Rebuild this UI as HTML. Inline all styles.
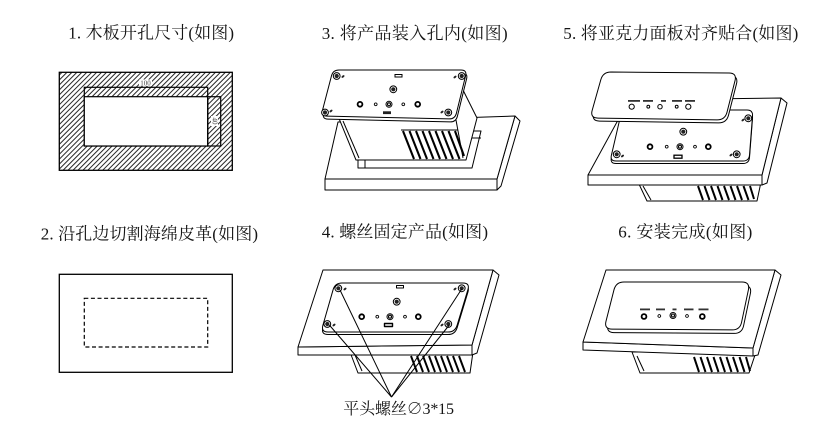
<!DOCTYPE html>
<html><head><meta charset="utf-8"><style>
html,body{margin:0;padding:0;background:#fff;width:822px;height:426px;overflow:hidden}
svg{display:block}
text{font-family:"Liberation Serif","Noto Serif CJK SC",serif;fill:#151515}
</style></head><body>
<svg width="822" height="426" viewBox="0 0 822 426" xmlns="http://www.w3.org/2000/svg">
<defs>
<pattern id="h" width="3.5" height="3.5" patternUnits="userSpaceOnUse" patternTransform="rotate(45)">
<line x1="0.5" y1="0" x2="0.5" y2="3.5" stroke="#000" stroke-width="0.85"/></pattern>
<g id="s"><circle r="3.4" fill="#fff" stroke="#000" stroke-width="1"/><circle r="2.1" fill="#222"/></g>
<g id="hb"><circle r="2.4" fill="#fff" stroke="#000" stroke-width="1.8"/></g>
<g id="hs"><circle r="1.4" fill="#fff" stroke="#000" stroke-width="0.9"/></g>
<g id="hn"><circle r="3" fill="#fff" stroke="#000" stroke-width="1"/><circle r="1.5" fill="#fff" stroke="#000" stroke-width="1.1"/></g>
<g id="m"><ellipse rx="1.7" ry="1" fill="#222" transform="rotate(-40)"/></g>
</defs>

<!-- Titles -->
<text x="68.3" y="38.5" font-size="17" textLength="165.7" lengthAdjust="spacing">1. 木板开孔尺寸(如图)</text>
<text x="321.7" y="38.8" font-size="17" textLength="186" lengthAdjust="spacing">3. 将产品装入孔内(如图)</text>
<text x="563.3" y="38.8" font-size="17" textLength="235" lengthAdjust="spacing">5. 将亚克力面板对齐贴合(如图)</text>
<text x="40.7" y="239.5" font-size="17" textLength="217.3" lengthAdjust="spacing">2. 沿孔边切割海绵皮革(如图)</text>
<text x="321.7" y="237.5" font-size="17" textLength="166.3" lengthAdjust="spacing">4. 螺丝固定产品(如图)</text>
<text x="618.3" y="237.5" font-size="17" textLength="134" lengthAdjust="spacing">6. 安装完成(如图)</text>
<text x="343.3" y="413.8" font-size="16" textLength="110.7" lengthAdjust="spacing">平头螺丝∅3*15</text>

<!-- Panel 1 -->
<rect x="59.3" y="72.3" width="173" height="98" fill="url(#h)" stroke="#000" stroke-width="1.3"/>
<rect x="84.3" y="87.3" width="123.4" height="58.7" fill="none" stroke="#000" stroke-width="1.2"/>
<rect x="84.3" y="96.7" width="123.4" height="49.3" fill="#fff" stroke="#000" stroke-width="1.2"/>
<rect x="207.7" y="96.7" width="13" height="49.3" fill="none" stroke="#000" stroke-width="1.2"/>
<rect x="139" y="79.5" width="13" height="6.5" fill="#fff"/>
<text x="145.5" y="85.3" font-size="7" text-anchor="middle" style="fill:#444">100</text>
<rect x="211" y="116" width="7" height="10" fill="#fff"/>
<text x="0" y="0" font-size="7" text-anchor="middle" style="fill:#444" transform="translate(212.3,121) rotate(90)">40</text>

<!-- Panel 2 -->
<rect x="59.3" y="274.3" width="173" height="98" fill="none" stroke="#000" stroke-width="1.3"/>
<rect x="84.3" y="298.3" width="123.4" height="48.7" fill="none" stroke="#000" stroke-width="1.2" stroke-dasharray="4 2.6"/>

<g stroke="#000" stroke-width="1" fill="#fff" stroke-linejoin="round">
<!-- Panel 3 board -->
<polygon points="325,179 497,179 497,190 325,190"/>
<polygon points="515,116 520,121 501,186 497,190 497,179"/>
<polygon points="338,122 515,116 497,179 325,179"/>
<polyline fill="none" points="358,160 358,168 472,168 481,131 472,131 472,138 481,138"/>
<line x1="365" y1="160" x2="365" y2="168"/>
<!-- Panel 3 box -->
<path d="M338,116 L356,160 L466,160 L477,118 L463,90 Z"/>
<line x1="343" y1="121" x2="359" y2="158"/>
<line x1="456" y1="120" x2="463" y2="158"/>
<line x1="401" y1="130" x2="458" y2="130"/>
</g>
<g stroke="#000" stroke-width="2.1">
<line x1="403" y1="131" x2="414" y2="159"/><line x1="409.5" y1="131" x2="420.5" y2="159"/>
<line x1="416" y1="131" x2="427" y2="159"/><line x1="422.5" y1="131" x2="433.5" y2="159"/>
<line x1="429" y1="131" x2="440" y2="159"/><line x1="435.5" y1="131" x2="446.5" y2="159"/>
<line x1="442" y1="131" x2="453" y2="159"/><line x1="448.5" y1="131" x2="459.5" y2="159"/>
<line x1="455" y1="131" x2="464" y2="156"/>
</g>
<g stroke="#000" stroke-width="1" fill="#fff">
<path transform="translate(1,3)" d="M339,70 L461,70 Q467,70 465.6,75.8 L456.4,113.2 Q455,119 449,118.9 L327,116.1 Q321,116 322.5,110.2 L331.5,75.8 Q333,70 339,70 Z"/>
<path d="M339,70 L461,70 Q467,70 465.6,75.8 L456.4,113.2 Q455,119 449,118.9 L327,116.1 Q321,116 322.5,110.2 L331.5,75.8 Q333,70 339,70 Z"/>
<rect x="395" y="74.5" width="7" height="2.5"/>
</g>
<use href="#s" x="336.7" y="76"/><use href="#s" x="461.7" y="76"/>
<use href="#s" x="325" y="112.5"/><use href="#s" x="448.3" y="112.5"/>
<use href="#m" x="343" y="76.5"/><use href="#m" x="455" y="77"/>
<use href="#m" x="331" y="111"/><use href="#m" x="442" y="112"/>
<use href="#s" x="393.3" y="89.3"/>
<use href="#hb" x="360" y="104.3"/><use href="#hs" x="375.7" y="104.3"/>
<use href="#hn" x="389" y="104.3"/><use href="#hs" x="403.3" y="104.3"/>
<use href="#hb" x="417.7" y="104.3"/>
<rect x="383" y="111.3" width="8" height="2.8" fill="#222"/>

<!-- Panel 4 -->
<g stroke="#000" stroke-width="1" fill="#fff" stroke-linejoin="round">
<polygon points="350,352 358,373 470,373 473,352"/>
<line x1="355" y1="355" x2="362" y2="371"/>
<polygon points="298,347 472,345 472,355 298,355"/>
<polygon points="493,270 499,275 477,353 472,355 472,345"/>
<polygon points="323,270 493,270 472,345 298,347"/>
<path transform="translate(0,2.5)" d="M342,283 L463,283 Q470,283 467.9,289.7 L457.1,325.3 Q455,332 448,332 L328,332 Q321,332 322.9,325.3 L333.1,289.7 Q335,283 342,283 Z"/>
<path d="M342,283 L463,283 Q470,283 467.9,289.7 L457.1,325.3 Q455,332 448,332 L328,332 Q321,332 322.9,325.3 L333.1,289.7 Q335,283 342,283 Z"/>
<rect x="396.5" y="285.5" width="7" height="2.5"/>
<rect x="384.5" y="323.5" width="8" height="3" stroke-width="1.4"/>
</g>
<g stroke="#000" stroke-width="2">
<line x1="411" y1="356" x2="417" y2="372"/><line x1="417" y1="356" x2="423" y2="372"/>
<line x1="423" y1="356" x2="429" y2="372"/><line x1="429" y1="356" x2="435" y2="372"/>
<line x1="435" y1="356" x2="441" y2="372"/><line x1="441" y1="356" x2="447" y2="372"/>
<line x1="447" y1="356" x2="453" y2="372"/><line x1="453" y1="356" x2="459" y2="372"/>
<line x1="459" y1="356" x2="465" y2="372"/>
</g>
<use href="#s" x="338.3" y="288.3"/><use href="#s" x="461.7" y="288.3"/>
<use href="#s" x="327.3" y="324"/><use href="#s" x="448.3" y="324"/>
<use href="#m" x="345" y="289"/><use href="#m" x="455" y="289"/>
<use href="#m" x="334" y="325"/><use href="#m" x="442" y="325"/>
<use href="#s" x="396.7" y="301.7"/>
<use href="#hb" x="361.7" y="316.7"/><use href="#hs" x="377.3" y="316.7"/>
<use href="#hn" x="390" y="316.7"/><use href="#hs" x="405" y="316.7"/>
<use href="#hb" x="418.3" y="316.7"/>
<g stroke="#000" stroke-width="1">
<line x1="340" y1="290" x2="391.5" y2="397"/>
<line x1="329.3" y1="325" x2="391.5" y2="397"/>
<line x1="461.7" y1="289" x2="391.5" y2="397"/>
<line x1="449.3" y1="325" x2="391.5" y2="397"/>
</g>

<!-- Panel 5 -->
<g stroke="#000" stroke-width="1" fill="#fff" stroke-linejoin="round">
<polygon points="638,182 647,201 757,201 761,182"/>
<line x1="643" y1="186" x2="651" y2="200"/>
<polygon points="588,175 762,175 762,185 588,185"/>
<polygon points="781,98 787,103 767,183 762,185 762,175"/>
<polygon points="629,100 781,98 762,175 588,175"/>
<path transform="translate(0,2.5)" d="M628,110 L747,110 Q753,110 752.5,116 L749.5,155 Q749,161 743,161 L616,161 Q610,161 611.4,155.2 L620.6,115.8 Q622,110 628,110 Z"/>
<path d="M628,110 L747,110 Q753,110 752.5,116 L749.5,155 Q749,161 743,161 L616,161 Q610,161 611.4,155.2 L620.6,115.8 Q622,110 628,110 Z"/>
</g>
<g stroke="#000" stroke-width="2">
<line x1="698" y1="186" x2="703" y2="200"/><line x1="704.5" y1="186" x2="709.5" y2="200"/>
<line x1="711" y1="186" x2="716" y2="200"/><line x1="717.5" y1="186" x2="722.5" y2="200"/>
<line x1="724" y1="186" x2="729" y2="200"/><line x1="730.5" y1="186" x2="735.5" y2="200"/>
<line x1="737" y1="186" x2="742" y2="200"/><line x1="743.5" y1="186" x2="748.5" y2="200"/>
<line x1="750" y1="186" x2="754" y2="199"/>
</g>
<use href="#s" x="748.3" y="118.3"/><use href="#s" x="736.7" y="154.3"/><use href="#s" x="616.7" y="154.3"/>
<use href="#m" x="743" y="120"/><use href="#m" x="731" y="155"/><use href="#m" x="622.5" y="156"/>
<use href="#s" x="683.3" y="131.7"/>
<use href="#hb" x="650" y="146.7"/><use href="#hs" x="666.7" y="146.7"/>
<use href="#hn" x="680" y="146.7"/><use href="#hs" x="695" y="146.7"/>
<use href="#hb" x="708.3" y="146.7"/>
<rect x="674" y="155.2" width="8" height="3" fill="#fff" stroke="#000" stroke-width="1.3"/>
<g stroke="#000" stroke-width="1" fill="#fff">
<path transform="translate(1.5,3)" d="M611,72 L729,73 Q737,73 735,80.8 L727,112.3 Q725,120 717,119.9 L598,118.1 Q590,118 592.2,110.3 L600.8,79.7 Q603,72 611,72 Z"/>
<path d="M611,72 L729,73 Q737,73 735,80.8 L727,112.3 Q725,120 717,119.9 L598,118.1 Q590,118 592.2,110.3 L600.8,79.7 Q603,72 611,72 Z"/>
</g>
<g fill="#333">
<rect x="628" y="100" width="12" height="1.8"/><rect x="643" y="100" width="10" height="1.8"/>
<rect x="661" y="100" width="5" height="1.8"/><rect x="672" y="100" width="10" height="1.8"/>
<rect x="685" y="100" width="10" height="1.8"/>
</g>
<g fill="#fff" stroke="#000" stroke-width="1">
<circle cx="631.7" cy="106.7" r="2.6"/><circle cx="648.3" cy="106.7" r="1.4"/>
<circle cx="660" cy="106.7" r="2.2"/><circle cx="676.7" cy="106.7" r="1.4"/>
<circle cx="688.3" cy="106.7" r="2.6"/>
</g>

<!-- Panel 6 -->
<g stroke="#000" stroke-width="1" fill="#fff" stroke-linejoin="round">
<polygon points="632,352 640,373 749,373 756,352"/>
<line x1="637" y1="356" x2="644" y2="371"/>
<polygon points="583,342 753,348 753,356 583,350"/>
<polygon points="775,270 781,275 758,355 753,356 753,348"/>
<polygon points="606,270 775,270 753,348 583,342"/>
</g>
<g stroke="#000" stroke-width="2">
<line x1="694" y1="357" x2="699" y2="372"/><line x1="700.5" y1="357" x2="705.5" y2="372"/>
<line x1="707" y1="357" x2="712" y2="372"/><line x1="713.5" y1="357" x2="718.5" y2="372"/>
<line x1="720" y1="357" x2="725" y2="372"/><line x1="726.5" y1="357" x2="731.5" y2="372"/>
<line x1="733" y1="357" x2="738" y2="372"/><line x1="739.5" y1="357" x2="744.5" y2="372"/>
<line x1="746" y1="357" x2="750" y2="371"/>
</g>
<g stroke="#000" stroke-width="1" fill="#fff">
<path transform="translate(2,3.5)" d="M624,282 L742,282 Q750,282 748.4,289.8 L741.6,322.2 Q740,330 732,329.9 L612,329.1 Q604,329 606,321.2 L614,289.8 Q616,282 624,282 Z"/>
<path d="M624,282 L742,282 Q750,282 748.4,289.8 L741.6,322.2 Q740,330 732,329.9 L612,329.1 Q604,329 606,321.2 L614,289.8 Q616,282 624,282 Z"/>
</g>
<g fill="#333">
<rect x="640" y="308.5" width="10" height="1.8"/><rect x="656" y="308.5" width="9" height="1.8"/>
<rect x="672.5" y="308.5" width="4" height="1.8"/><rect x="684" y="308.5" width="9.5" height="1.8"/>
<rect x="698.5" y="308.5" width="10" height="1.8"/>
</g>
<use href="#hb" x="644" y="316.5"/><use href="#hs" x="659.3" y="316"/>
<use href="#hn" x="673" y="315.5"/><use href="#hs" x="687" y="316"/>
<use href="#hb" x="702.3" y="316.5"/>
</svg>
</body></html>
